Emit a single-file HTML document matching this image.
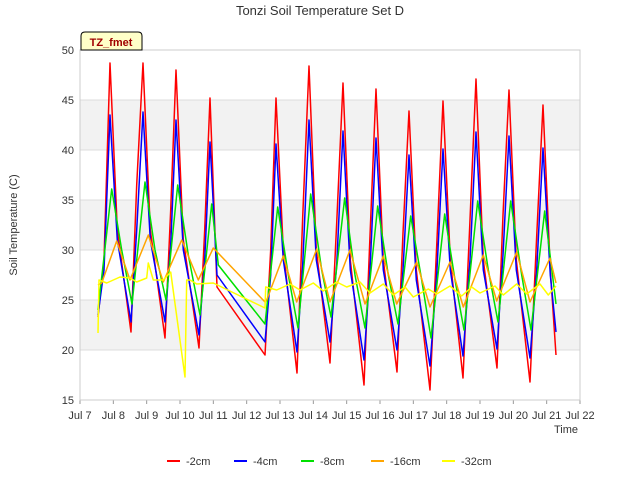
<!DOCTYPE html>
<html><head><meta charset="utf-8"><style>
body{margin:0;background:#fff;}
svg{display:block;font-family:"Liberation Sans",sans-serif;}
</style></head><body>
<svg id="chart" width="640" height="480">
<rect x="0" y="0" width="640" height="480" fill="#fff"/>
<g id="bands"></g>
<g id="grid"></g>
<g id="series"></g>
<g id="axes"></g>
<text x="320" y="15" text-anchor="middle" font-size="13" fill="#333">Tonzi Soil Temperature Set D</text>
<text transform="translate(17,225) rotate(-90)" text-anchor="middle" font-size="11" fill="#333">Soil Temperature (C)</text>
<text x="566" y="433" text-anchor="middle" font-size="11" fill="#333">Time</text>
<g>
<path d="M81,50 L81,36 Q81,32 85,32 L138,32 Q142,32 142,36 L142,50 Z" fill="#ffffc8" stroke="#000" stroke-width="1"/>
<text x="111" y="46" text-anchor="middle" font-size="11" font-weight="bold" fill="#a00000">TZ_fmet</text>
</g>
<g id="legend"></g>
</svg>
<script>
const yTicks=[15,20,25,30,35,40,45,50];
const xTickLabels=["Jul 7","Jul 8","Jul 9","Jul 10","Jul 11","Jul 12","Jul 13","Jul 14","Jul 15","Jul 16","Jul 17","Jul 18","Jul 19","Jul 20","Jul 21","Jul 22"];
const seriesNames=["-2cm","-4cm","-8cm","-16cm","-32cm"];
const seriesColors=["#ff0000","#0000ff","#00e000","#ffa500","#ffff00"];
const t2cm=[7.54,7.72,7.90,8.12,8.53,8.70,8.89,9.11,9.55,9.72,9.88,10.10,10.57,10.74,10.90,11.11,12.55,12.72,12.88,13.10,13.51,13.68,13.87,14.09,14.50,14.70,14.89,15.11,15.52,15.70,15.88,16.10,16.51,16.69,16.87,17.09,17.50,17.70,17.89,18.11,18.49,18.70,18.88,19.10,19.51,19.69,19.87,20.09,20.50,20.70,20.89,21.11,21.28];
const v2cm=[23.3,29.0,48.7,32.0,21.8,36.5,48.7,32.0,21.2,34.0,48.0,31.0,20.2,32.0,45.2,26.3,19.5,30.0,45.2,30.0,17.7,33.3,48.4,30.0,18.7,32.7,46.7,29.0,16.5,31.4,46.1,29.0,17.8,31.7,43.9,28.0,16.0,30.4,44.9,29.0,17.2,33.0,47.1,29.0,18.2,33.5,46.0,29.0,16.8,31.4,44.5,28.0,19.5];
const t4cm=[7.54,7.72,7.90,8.12,8.53,8.70,8.89,9.11,9.55,9.72,9.88,10.10,10.57,10.74,10.90,11.11,12.55,12.72,12.88,13.10,13.51,13.68,13.87,14.09,14.50,14.70,14.89,15.11,15.52,15.70,15.88,16.10,16.51,16.69,16.87,17.09,17.50,17.70,17.89,18.11,18.49,18.70,18.88,19.10,19.51,19.69,19.87,20.09,20.50,20.70,20.89,21.11,21.28];
const v4cm=[23.5,28.0,43.5,31.0,22.8,32.0,43.8,31.0,22.8,30.5,43.0,30.0,21.5,29.0,40.8,27.5,20.8,27.5,40.6,29.0,19.8,28.5,43.0,29.0,20.8,28.5,41.9,28.0,19.0,28.0,41.2,28.0,20.0,28.0,39.5,27.0,18.4,27.5,40.1,28.0,19.4,29.0,41.8,28.0,20.1,29.5,41.4,28.0,19.2,28.0,40.2,27.5,21.8];
const t8cm=[7.54,7.95,8.25,8.56,8.95,9.25,9.58,9.93,10.25,10.60,10.95,11.15,12.55,12.93,13.25,13.54,13.92,14.25,14.53,14.94,15.25,15.55,15.93,16.25,16.54,16.92,17.25,17.53,17.94,18.25,18.52,18.93,19.25,19.54,19.92,20.25,20.53,20.94,21.28];
const v8cm=[24.0,36.1,30.0,24.6,36.8,30.0,25.0,36.5,29.5,23.5,34.6,28.5,22.6,34.3,27.5,22.2,35.6,28.0,23.3,35.2,27.5,22.2,34.4,27.5,22.6,33.4,27.0,21.2,33.6,27.0,22.0,34.9,28.0,22.8,34.9,27.5,22.0,33.9,24.6];
const t16cm=[7.54,7.65,8.10,8.50,9.05,9.50,10.05,10.55,11.00,12.55,12.60,13.10,13.50,14.10,14.50,15.10,15.55,16.10,16.50,17.10,17.50,18.10,18.50,19.10,19.50,20.10,20.50,21.10,21.28];
const v16cm=[26.5,26.7,30.9,27.0,31.5,26.8,31.0,27.0,30.2,24.8,25.0,29.4,24.8,30.1,24.8,30.0,24.6,29.4,24.6,28.8,24.3,28.8,24.3,29.5,24.9,29.8,24.8,29.2,26.7];
const t32cm=[7.54,7.57,7.80,8.20,8.50,8.70,9.00,9.05,9.20,9.50,9.72,10.15,10.20,10.30,10.50,11.00,12.55,12.57,12.90,13.30,13.60,14.00,14.30,14.70,15.00,15.40,15.70,16.10,16.40,16.75,17.00,17.45,17.70,18.10,18.45,18.75,19.00,19.45,19.70,20.10,20.40,20.80,21.05,21.28];
const v32cm=[21.7,27.0,26.7,27.3,27.2,26.8,27.2,28.7,27.0,27.0,27.8,17.3,27.0,27.0,26.6,26.7,24.2,26.3,26.0,26.6,26.0,26.7,25.9,26.8,26.3,26.8,25.7,26.6,25.5,26.3,25.3,26.1,25.6,26.4,25.4,26.3,25.7,26.4,25.5,26.6,25.6,26.6,25.5,26.4];
const T=[t2cm,t4cm,t8cm,t16cm,t32cm], V=[v2cm,v4cm,v8cm,v16cm,v32cm];
const X0=80,X1=580,Y0=50,Y1=400;
function xs(d){return X0+(d-7)/15*(X1-X0);}
function ys(v){return Y1-(v-15)/35*(Y1-Y0);}
const NS="http://www.w3.org/2000/svg";
function mk(tag,attrs,parent){const e=document.createElementNS(NS,tag);for(const k in attrs)e.setAttribute(k,attrs[k]);parent.appendChild(e);return e;}
const bands=document.getElementById('bands'),grid=document.getElementById('grid'),axes=document.getElementById('axes'),ser=document.getElementById('series'),leg=document.getElementById('legend');
const bg=mk('rect',{x:X0,y:Y0,width:X1-X0,height:Y1-Y0,fill:'#fff'},bands);


for(let i=0;i<yTicks.length-1;i++){
  if(i%2===1){const b=mk('rect',{x:X0,y:ys(yTicks[i+1]),width:X1-X0,height:ys(yTicks[i])-ys(yTicks[i+1]),fill:'#f2f2f2'},bands);
  
  }
}
yTicks.forEach(v=>{
  const l=mk('line',{x1:X0,x2:X1,y1:ys(v),y2:ys(v),stroke:'#dcdcdc','stroke-width':1},grid);
  
  
  const t=mk('text',{x:X0-6,y:ys(v)+4,'text-anchor':'end','font-size':11,fill:'#333'},axes);
  t.textContent=v;
  
  
});
xTickLabels.forEach((s,i)=>{
  const x=xs(7+i);
  const tk=mk('line',{x1:x,x2:x,y1:Y1,y2:Y1+4,stroke:'#999'},axes);
  
  
  const t=mk('text',{x:x,y:Y1+19,'text-anchor':'middle','font-size':11,fill:'#333'},axes);
  t.textContent=s;
  
  
});
const fr=mk('rect',{x:X0,y:Y0,width:X1-X0,height:Y1-Y0,fill:'none',stroke:'#ccc'},axes);


for(let s=0;s<5;s++){
  const pts=T[s].map((d,i)=>xs(d).toFixed(1)+','+ys(V[s][i]).toFixed(1)).join(' ');
  const p=mk('polyline',{points:pts,fill:'none',stroke:seriesColors[s],'stroke-width':1.5,'stroke-linejoin':'round'},ser);
  
  
}
const lx=[167,234,301,371,442];
seriesNames.forEach((n,i)=>{
  const g=mk('g',{},leg);
  
  
  mk('line',{x1:lx[i],x2:lx[i]+13,y1:461,y2:461,stroke:seriesColors[i],'stroke-width':2},g);
  const t=mk('text',{x:lx[i]+19,y:465,'font-size':11,fill:'#333'},g);
  t.textContent=n;
});
</script>
</body></html>
